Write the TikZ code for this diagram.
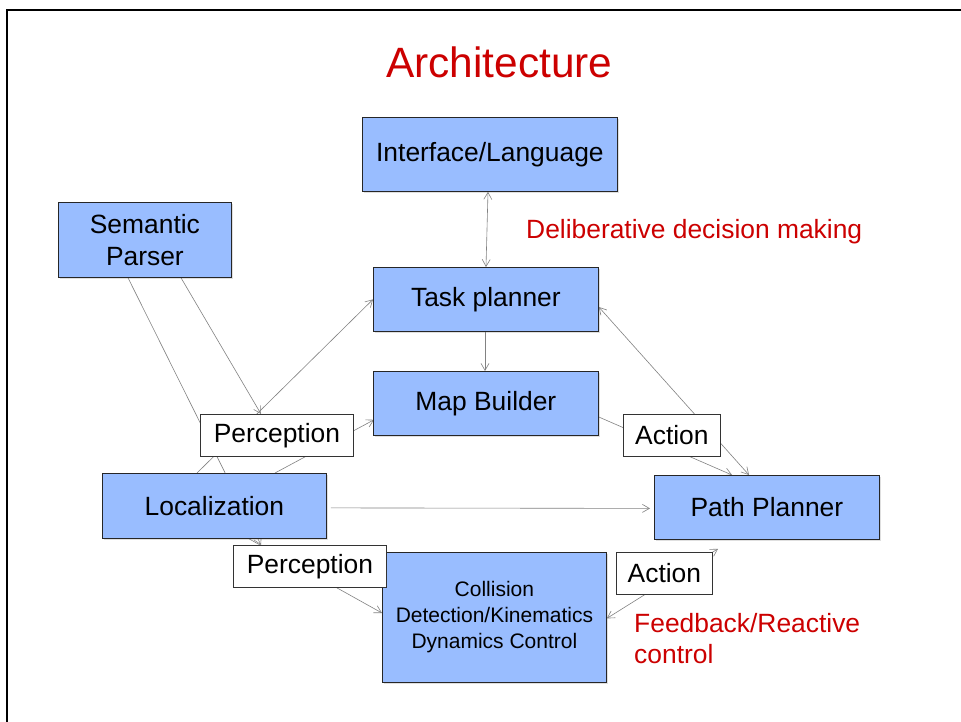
\documentclass[tikz,border=0pt]{standalone}
\usepackage{fontspec}
\setmainfont{Liberation Sans}
\usetikzlibrary{arrows.meta,calc,shadows}
\definecolor{boxblue}{RGB}{153,189,255}
\definecolor{slidered}{RGB}{204,0,0}
\definecolor{linegray}{RGB}{130,130,130}
\pgfdeclarelayer{bg}
\pgfsetlayers{bg,main}
\begin{document}
\begin{tikzpicture}[x=1pt,y=-1pt,
  bluebox/.style={draw=black!85, line width=0.8pt, fill=boxblue, anchor=north west,
    inner sep=0pt, align=center, font=\fontsize{26.4}{32}\selectfont,
    drop shadow={shadow xshift=1.2pt,shadow yshift=-1.5pt,opacity=0.25}},
  labelbox/.style={draw=black!80, line width=0.8pt, fill=white, anchor=north west,
    inner sep=0pt, font=\fontsize{26.4}{32}\selectfont},
  redtext/.style={anchor=base west, inner sep=0pt, text=slidered},
  conn/.style={draw=linegray, line width=0.6pt},
  arr/.style={-{Straight Barb[length=7pt,width=8pt]}},
  darr/.style={{Straight Barb[length=7pt,width=8pt]}-{Straight Barb[length=7pt,width=8pt]}}]
\useasboundingbox (0,0) rectangle (961,722);
\draw[line width=2.2pt] (7,722) -- (7,10) -- (961,10);

\node[redtext, font=\fontsize{42.4}{50}\selectfont] (title) at (386,78) {Architecture};
\node[redtext, font=\fontsize{26.4}{32}\selectfont] (delib) at (526,238) {Deliberative decision making};
\node[redtext, font=\fontsize{26.4}{31}\selectfont, align=left] (feed) at (634,632) {Feedback/Reactive};
\node[redtext, font=\fontsize{26.4}{31}\selectfont] (ctrl) at (634,663) {control};

\node[bluebox, minimum width=255pt, minimum height=74pt] (iface) at (362,117) {Interface/Language};
\node[bluebox, minimum width=225pt, minimum height=64pt] (task) at (373,267) {Task planner};
\node[bluebox, minimum width=225pt, minimum height=64pt] (map) at (373,371) {Map Builder};
\node[bluebox, minimum width=173pt, minimum height=75pt] (sp) at (58,202) {Semantic\\Parser};
\node[bluebox, minimum width=224pt, minimum height=65pt] (loc) at (102,473) {Localization};
\node[bluebox, minimum width=224pt, minimum height=130pt, font=\fontsize{21}{26}\selectfont] (coll) at (382,552) {Collision\\Detection/Kinematics\\Dynamics Control};
\node[bluebox, minimum width=225pt, minimum height=64pt] (path) at (654,475) {Path Planner};

\node[labelbox, minimum width=153pt, minimum height=42pt] (perc1) at (200,414) {Perception};
\node[labelbox, minimum width=153pt, minimum height=42pt] (perc2) at (233,545) {Perception};
\node[labelbox, minimum width=97pt, minimum height=42pt] (act1) at (623,414) {Action};
\node[labelbox, minimum width=96pt, minimum height=42pt] (act2) at (616,552) {Action};

\begin{pgfonlayer}{bg}
\fill[white] (0,0) rectangle (961,722);
\draw[conn,darr] ($(iface.south west)+(126,0)$) -- ($(task.north west)+(113,0)$);
\draw[conn,arr] ($(task.south west)+(112,0)$) -- ($(map.north west)+(112,0)$);
\draw[conn,arr] ($(sp.south west)+(70,0)$) -- ($(perc2.north west)+(28,0)$);
\draw[conn,arr] ($(sp.south west)+(123,0)$) -- ($(perc1.north west)+(61,0)$);
\draw[conn,arr] ($(loc.north west)+(95,0)$) -- (task.west);
\draw[conn,arr] ($(loc.north west)+(173,0)$) -- ($(map.south west)+(1,-16)$);
\draw[conn,arr] ($(map.north east)+(0,46)$) -- ($(path.north west)+(78,0)$);
\draw[conn,darr] ($(task.north east)+(0,40)$) -- ($(path.north west)+(95,0)$);
\draw[conn,arr] ($(loc.east)+(4,2)$) -- ($(path.west)+(-4,1)$);
\draw[conn,arr] ($(loc.south west)+(147,0)$) -- ($(coll.north west)+(0,61)$);
\draw[conn,darr] ($(coll.east)+(0,1)$) -- ($(path.south west)+(64,9)$);
\end{pgfonlayer}
\end{tikzpicture}
\end{document}
